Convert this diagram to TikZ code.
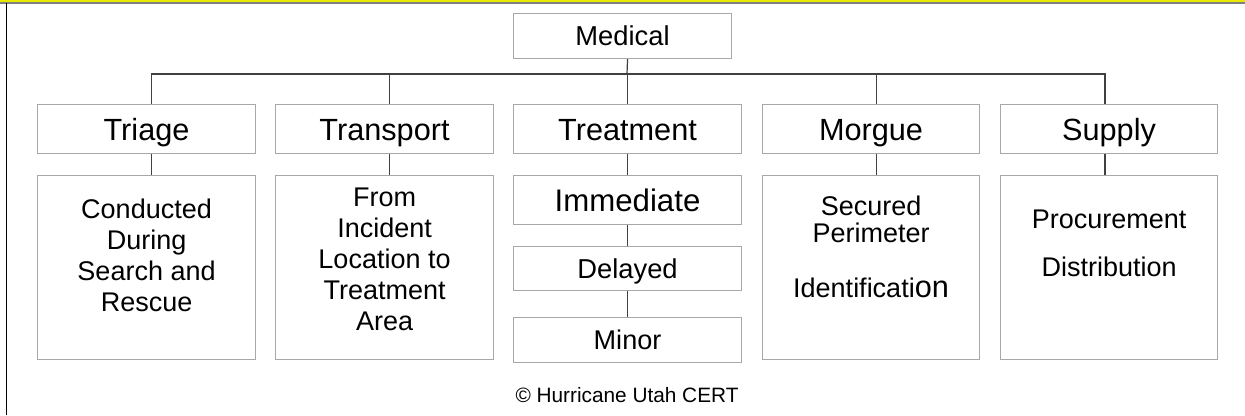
\documentclass[tikz,border=0pt]{standalone}
\usepackage{fontspec}
\setmainfont{Liberation Sans}
\definecolor{boxgray}{HTML}{A8A8A8}
\definecolor{conngray}{HTML}{404040}
\definecolor{bandyellow}{HTML}{E8E800}
\begin{document}
\begin{tikzpicture}[x=0.75pt,y=-0.75pt,
  box/.style={draw=boxgray, line width=0.8pt, inner sep=0pt, anchor=north west},
  dim/.style 2 args={minimum width=#1*0.75pt, minimum height=#2*0.75pt},
  conn/.style={draw=conngray, line width=0.9pt},
  fsz/.style={font=\fontsize{#1 pt}{#1 pt}\selectfont, text height=0.716*#1 pt, text depth=0pt},
  bodytext/.style={align=center, anchor=north, inner sep=0pt,
                   font=\fontsize{20.25pt}{23.25pt}\selectfont}]
\useasboundingbox (0,0) rectangle (1245,415);
% frame decoration
\fill[bandyellow] (0,0) rectangle (1245,2.2);
\draw[gray, line width=0.8pt] (0,3) -- (1245,3);
\draw[black, line width=1pt] (6.5,3) -- (6.5,415);

% root
\node[box, dim={218}{45}, fsz=20.5] (med) at (513,13) {Medical};

% level 1
\node[box, dim={218}{49}, fsz=23] (tri) at (37,104) {Triage};
\node[box, dim={218}{49}, fsz=23] (tra) at (275,104) {Transport};
\node[box, dim={228}{49}, fsz=23] (tre) at (513,104) {Treatment};
\node[box, dim={217}{49}, fsz=23] (mor) at (762,104) {Morgue};
\node[box, dim={217}{49}, fsz=23] (sup) at (1000,104) {Supply};

% level 2 boxes
\node[box, dim={218}{184}] (trib) at (37,175) {};
\node[box, dim={218}{184}] (trab) at (275,175) {};
\node[box, dim={217}{184}] (morb) at (762,175) {};
\node[box, dim={217}{184}] (supb) at (1000,175) {};
\node[box, dim={228}{49}, fsz=23.4] (imm) at (513,175) {Immediate};
\node[box, dim={228}{44}, fsz=20.5] (del) at (513,246) {Delayed};
\node[box, dim={228}{45}, fsz=20.3] (min) at (513,317) {Minor};

% level 2 texts
\node[bodytext] (tribt) at (trib.north |- 0,199) {Conducted\\During\\Search and\\Rescue};
\node[bodytext] (trabt) at (trab.north |- 0,188) {From\\Incident\\Location to\\Treatment\\Area};
\node[bodytext, font=\fontsize{20.25pt}{20.25pt}\selectfont] (morbt) at (morb.north |- 0,196) {Secured\\Perimeter\\[21pt]Identificati{\fontsize{23pt}{20.25pt}\selectfont on}};
\node[bodytext] (supbt) at (supb.north |- 0,210) {Procurement\\[12.75pt]Distribution};

% copyright
\node[inner sep=0pt, anchor=base, font=\fontsize{15.6pt}{18pt}\selectfont] (copy) at (627,402) {© Hurricane Utah CERT};

% connectors
\coordinate (bus) at (627,74);
\draw[conn] (med.south -| tre.north) -- (bus);
\draw[conn] ([xshift=4pt]tri.north) |- ([xshift=-3pt]sup.north |- bus) -- ([xshift=-3pt]sup.north);
\draw[conn] ([xshift=4pt]tra.north) -- ([xshift=4pt]tra.north |- bus);
\draw[conn] (tre.north) -- (tre.north |- bus);
\draw[conn] ([xshift=4pt]mor.north) -- ([xshift=4pt]mor.north |- bus);

\draw[conn] ([xshift=4pt]tri.south) -- ([xshift=4pt]trib.north);
\draw[conn] ([xshift=4pt]tra.south) -- ([xshift=4pt]trab.north);
\draw[conn] (tre.south) -- (imm.north);
\draw[conn] ([xshift=4pt]mor.south) -- ([xshift=4pt]morb.north);
\draw[conn] ([xshift=-3pt]sup.south) -- ([xshift=-3pt]supb.north);
\draw[conn] (imm.south) -- (del.north);
\draw[conn] (del.south) -- (min.north);
\end{tikzpicture}
\end{document}
